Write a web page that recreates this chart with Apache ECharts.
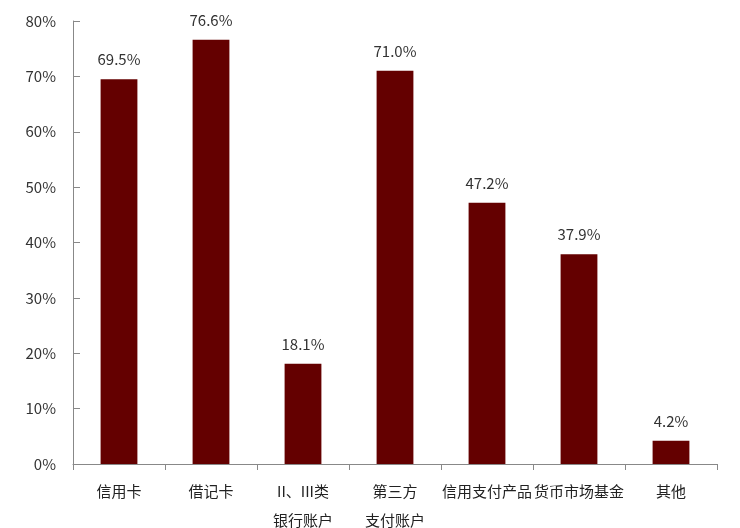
<!DOCTYPE html>
<html><head><meta charset="utf-8">
<script src="https://cdn.jsdelivr.net/npm/echarts@6/dist/echarts.min.js"></script>
<style>html,body{margin:0;padding:0;background:#fff}#c{width:740px;height:528px}</style>
</head><body><div id="c"></div>
<script>
const categories = ['信用卡', '借记卡', 'II、III类\n银行账户', '第三方\n支付账户', '信用支付产品', '货币市场基金', '其他'];
const values = [69.5, 76.6, 18.1, 71.0, 47.2, 37.9, 4.2];
const yTicks = [0, 10, 20, 30, 40, 50, 60, 70, 80];

const font = '"Noto Sans CJK SC", "Noto Sans", sans-serif';
const chart = echarts.init(document.getElementById('c'), null, {renderer: 'canvas'});
chart.setOption({
  animation: false,
  backgroundColor: '#fff',
  grid: {left: 73, right: 23, top: 21, bottom: 64, containLabel: false, outerBoundsMode: 'none'},
  xAxis: {
    type: 'category',
    data: categories,
    axisLine: {lineStyle: {color: '#888', width: 1}},
    axisTick: {show: true, length: 6, inside: false, alignWithLabel: false, lineStyle: {color: '#888'}},
    axisLabel: {interval: 0, color: '#222', fontSize: 15, fontFamily: font, lineHeight: 29, margin: 13}
  },
  yAxis: {
    type: 'value',
    min: yTicks[0], max: yTicks[yTicks.length - 1], interval: 10,
    axisLine: {show: true, lineStyle: {color: '#888', width: 1}},
    axisTick: {show: true, inside: true, length: 7, lineStyle: {color: '#888'}},
    splitLine: {show: false},
    axisLabel: {color: '#333', fontSize: 15, fontFamily: font, margin: 17, formatter: v => v + '%'}
  },
  series: [{
    type: 'bar',
    data: values,
    barWidth: '40%',
    itemStyle: {color: '#640000'},
    label: {show: true, position: 'top', distance: 12, color: '#333', fontSize: 15, fontFamily: font,
      formatter: p => p.value.toFixed(1) + '%'}
  }]
});
</script></body></html>
